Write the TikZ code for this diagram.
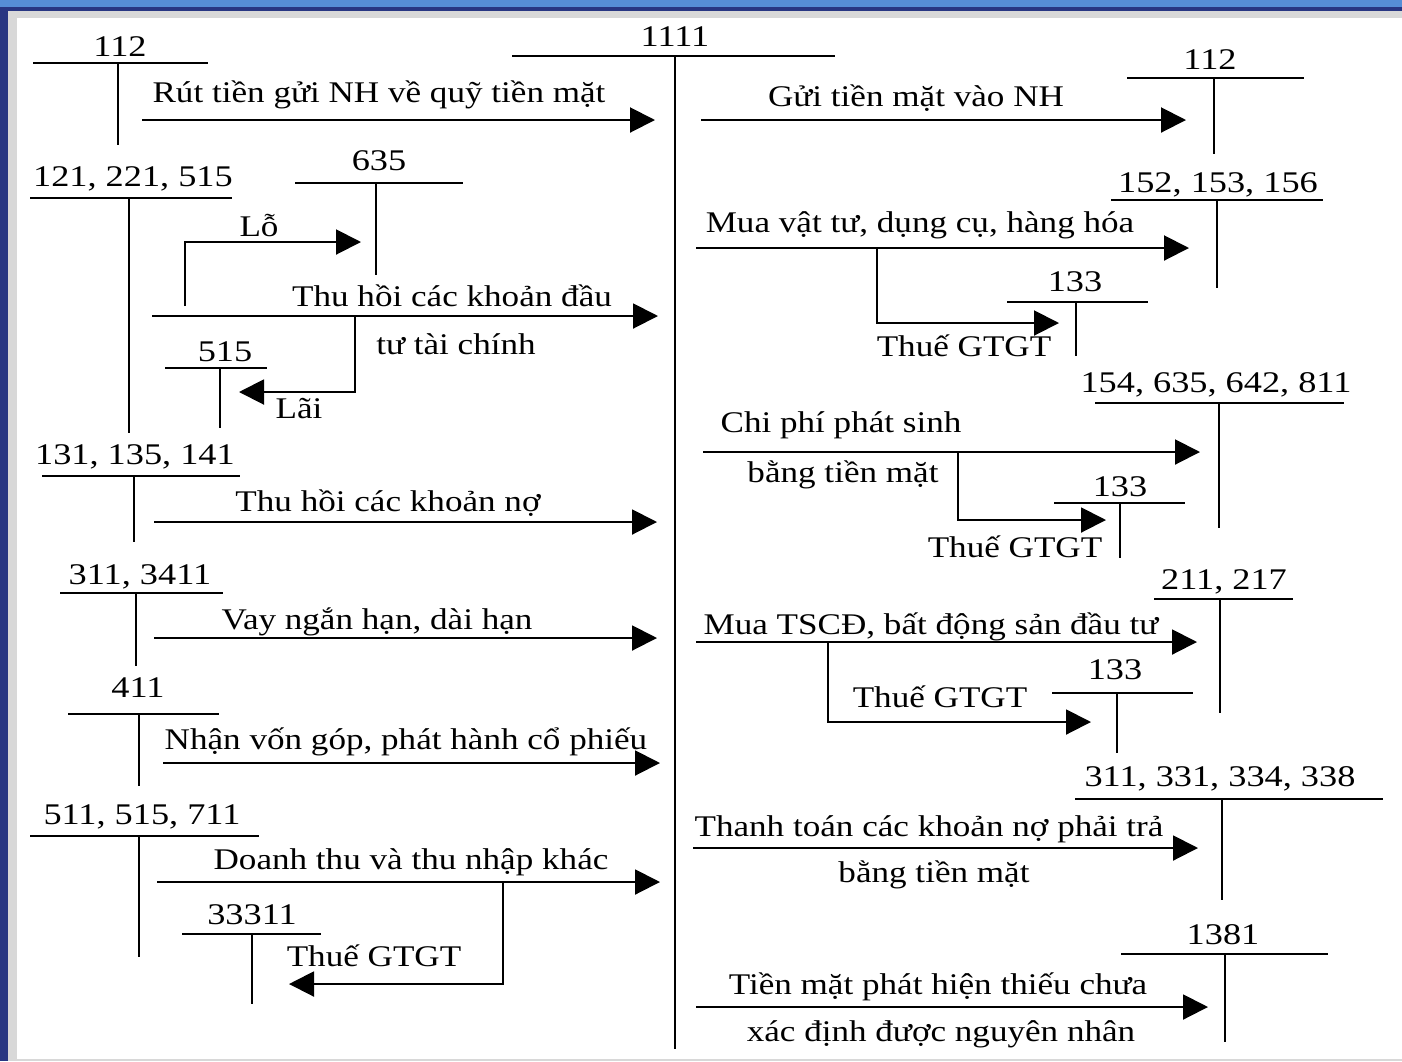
\documentclass[tikz,border=0pt]{standalone}
\usepackage{fontspec}
\setmainfont{Liberation Serif}[FakeStretch=1.17]
\newfontfamily\numfont{Liberation Serif}[FakeStretch=1.21]
\usetikzlibrary{arrows.meta}
\definecolor{topblue}{RGB}{86,142,214}
\definecolor{navy}{RGB}{40,54,130}
\definecolor{framegray}{RGB}{216,216,216}
\tikzset{
  lbl/.style={inner sep=0pt, anchor=base, font=\fontsize{15}{18}\selectfont},
  num/.style={lbl, font=\fontsize{15}{18}\numfont},
  acc/.style={line width=1pt},
  flow/.style={line width=1pt, -{Triangle[length=12.5pt,width=12.5pt]}},
  branch/.style={line width=1pt, line join=miter, -{Triangle[length=12.5pt,width=12.5pt]}},
}
\begin{document}
\begin{tikzpicture}[x=0.5pt,y=-0.5pt]
\useasboundingbox (0,0) rectangle (1402,1061);
% frame
\fill[white] (0,0) rectangle (1402,1061);
\fill[framegray] (0,0) rectangle (1402,18);
\fill[framegray] (0,0) rectangle (17,1061);
\fill[framegray] (0,1059) rectangle (1402,1061);
\fill[navy] (0,0) rectangle (8,1061);
\fill[topblue] (0,0) rectangle (1402,6.5);
\fill[navy] (0,6.5) rectangle (1402,10.5);

% central account 1111
\coordinate (c-l) at (512,56);
\coordinate (c-r) at (835,56);
\coordinate (c-t) at (675,56);
\coordinate (c-b) at (675,1049);
\draw[acc] (c-l) -- (c-r);
\draw[line width=1.2pt] (c-t) -- (c-b);
\node[num] (c-name) at (675,46) {1111};

% ---------- left accounts ----------
\draw[acc] (33,63) coordinate (a112-l) -- (208,63) coordinate (a112-r);
\draw[acc] (118,63) coordinate (a112-t) -- (118,145) coordinate (a112-b);
\node[num] (a112-name) at (120,56) {112};

\draw[acc] (30,198) coordinate (a121-l) -- (232,198) coordinate (a121-r);
\draw[acc] (129,198) coordinate (a121-t) -- (129,433) coordinate (a121-b);
\node[num] (a121-name) at (133,186) {121, 221, 515};

\draw[acc] (295,183) coordinate (a635-l) -- (463,183) coordinate (a635-r);
\draw[acc] (376,183) coordinate (a635-t) -- (376,275) coordinate (a635-b);
\node[num] (a635-name) at (379,170) {635};

\draw[acc] (165,368) coordinate (a515-l) -- (267,368) coordinate (a515-r);
\draw[acc] (220,368) coordinate (a515-t) -- (220,428) coordinate (a515-b);
\node[num] (a515-name) at (225,361) {515};

\draw[acc] (42,476) coordinate (a131-l) -- (240,476) coordinate (a131-r);
\draw[acc] (134,476) coordinate (a131-t) -- (134,542) coordinate (a131-b);
\node[num] (a131-name) at (135,464) {131, 135, 141};

\draw[acc] (60,593) coordinate (a311-l) -- (223,593) coordinate (a311-r);
\draw[acc] (136,593) coordinate (a311-t) -- (136,666) coordinate (a311-b);
\node[num] (a311-name) at (140,584) {311, 3411};

\draw[acc] (68,714) coordinate (a411-l) -- (219,714) coordinate (a411-r);
\draw[acc] (139,714) coordinate (a411-t) -- (139,786) coordinate (a411-b);
\node[num] (a411-name) at (138,697) {411};

\draw[acc] (30,836) coordinate (a511-l) -- (259,836) coordinate (a511-r);
\draw[acc] (139,836) coordinate (a511-t) -- (139,957) coordinate (a511-b);
\node[num] (a511-name) at (142,824) {511, 515, 711};

\draw[acc] (182,934) coordinate (a333-l) -- (321,934) coordinate (a333-r);
\draw[acc] (252,934) coordinate (a333-t) -- (252,1004) coordinate (a333-b);
\node[num] (a333-name) at (252,924) {33311};

% ---------- right accounts ----------
\draw[acc] (1127,78) coordinate (b112-l) -- (1304,78) coordinate (b112-r);
\draw[acc] (1214,78) coordinate (b112-t) -- (1214,154) coordinate (b112-b);
\node[num] (b112-name) at (1210,69) {112};

\draw[acc] (1111,200) coordinate (b152-l) -- (1323,200) coordinate (b152-r);
\draw[acc] (1217,200) coordinate (b152-t) -- (1217,288) coordinate (b152-b);
\node[num] (b152-name) at (1218,192) {152, 153, 156};

\draw[acc] (1007,302) coordinate (b133a-l) -- (1148,302) coordinate (b133a-r);
\draw[acc] (1076,302) coordinate (b133a-t) -- (1076,356) coordinate (b133a-b);
\node[num] (b133a-name) at (1075,291) {133};

\draw[acc] (1095,403) coordinate (b154-l) -- (1344,403) coordinate (b154-r);
\draw[acc] (1219,403) coordinate (b154-t) -- (1219,528) coordinate (b154-b);
\node[num] (b154-name) at (1216,392) {154, 635, 642, 811};

\draw[acc] (1054,503) coordinate (b133b-l) -- (1185,503) coordinate (b133b-r);
\draw[acc] (1120,503) coordinate (b133b-t) -- (1120,558) coordinate (b133b-b);
\node[num] (b133b-name) at (1120,496) {133};

\draw[acc] (1154,599) coordinate (b211-l) -- (1293,599) coordinate (b211-r);
\draw[acc] (1220,599) coordinate (b211-t) -- (1220,713) coordinate (b211-b);
\node[num] (b211-name) at (1224,589) {211, 217};

\draw[acc] (1052,693) coordinate (b133c-l) -- (1193,693) coordinate (b133c-r);
\draw[acc] (1117,693) coordinate (b133c-t) -- (1117,753) coordinate (b133c-b);
\node[num] (b133c-name) at (1115,679) {133};

\draw[acc] (1075,799) coordinate (b311-l) -- (1383,799) coordinate (b311-r);
\draw[acc] (1222,799) coordinate (b311-t) -- (1222,900) coordinate (b311-b);
\node[num] (b311-name) at (1220,786) {311, 331, 334, 338};

\draw[acc] (1121,954) coordinate (b1381-l) -- (1328,954) coordinate (b1381-r);
\draw[acc] (1225,954) coordinate (b1381-t) -- (1225,1042) coordinate (b1381-b);
\node[num] (b1381-name) at (1223,944) {1381};

% ---------- left flows ----------
\coordinate (f1s) at (142,120); \coordinate (f1e) at (655,120);
\draw[flow] (f1s) -- (f1e);
\node[lbl] (f1t) at (379,102) {Rút tiền gửi NH về quỹ tiền mặt};

\coordinate (f2s) at (152,316); \coordinate (f2e) at (658,316);
\draw[flow] (f2s) -- (f2e);
\node[lbl] (f2t) at (452,306) {Thu hồi các khoản đầu};
\node[lbl] (f2u) at (456,354) {tư tài chính};

\coordinate (lo-s) at (185,306); \coordinate (lo-e) at (361,242);
\draw[branch] (lo-s) |- (lo-e);
\node[lbl] (lo-t) at (259,236) {Lỗ};

\coordinate (lai-s) at (355,316); \coordinate (lai-e) at (239,392);
\draw[branch] (lai-s) |- (lai-e);
\node[lbl] (lai-t) at (299,418) {Lãi};

\coordinate (f3s) at (154,522); \coordinate (f3e) at (657,522);
\draw[flow] (f3s) -- (f3e);
\node[lbl] (f3t) at (388,511) {Thu hồi các khoản nợ};

\coordinate (f4s) at (154,638); \coordinate (f4e) at (657,638);
\draw[flow] (f4s) -- (f4e);
\node[lbl] (f4t) at (377,629) {Vay ngắn hạn, dài hạn};

\coordinate (f5s) at (163,763); \coordinate (f5e) at (660,763);
\draw[flow] (f5s) -- (f5e);
\node[lbl] (f5t) at (406,749) {Nhận vốn góp, phát hành cổ phiếu};

\coordinate (f6s) at (157,882); \coordinate (f6e) at (660,882);
\draw[flow] (f6s) -- (f6e);
\node[lbl] (f6t) at (411,869) {Doanh thu và thu nhập khác};

\coordinate (g6s) at (503,882); \coordinate (g6e) at (289,984);
\draw[branch] (g6s) |- (g6e);
\node[lbl] (g6t) at (374,966) {Thuế GTGT};

% ---------- right flows ----------
\coordinate (r1s) at (701,120); \coordinate (r1e) at (1186,120);
\draw[flow] (r1s) -- (r1e);
\node[lbl] (r1t) at (916,106) {Gửi tiền mặt vào NH};

\coordinate (r2s) at (696,248); \coordinate (r2e) at (1189,248);
\draw[flow] (r2s) -- (r2e);
\node[lbl] (r2t) at (920,232) {Mua vật tư, dụng cụ, hàng hóa};
\coordinate (g2s) at (877,248); \coordinate (g2e) at (1059,323);
\draw[branch] (g2s) |- (g2e);
\node[lbl] (g2t) at (964,356) {Thuế GTGT};

\coordinate (r3s) at (703,452); \coordinate (r3e) at (1200,452);
\draw[flow] (r3s) -- (r3e);
\node[lbl] (r3t) at (841,432) {Chi phí phát sinh};
\node[lbl] (r3u) at (843,482) {bằng tiền mặt};
\coordinate (g3s) at (958,452); \coordinate (g3e) at (1106,520);
\draw[branch] (g3s) |- (g3e);
\node[lbl] (g3t) at (1015,557) {Thuế GTGT};

\coordinate (r4s) at (696,642); \coordinate (r4e) at (1197,642);
\draw[flow] (r4s) -- (r4e);
\node[lbl] (r4t) at (931,634) {Mua TSCĐ, bất động sản đầu tư};
\coordinate (g4s) at (828,642); \coordinate (g4e) at (1091,722);
\draw[branch] (g4s) |- (g4e);
\node[lbl] (g4t) at (940,707) {Thuế GTGT};

\coordinate (r5s) at (693,848); \coordinate (r5e) at (1198,848);
\draw[flow] (r5s) -- (r5e);
\node[lbl] (r5t) at (929,836) {Thanh toán các khoản nợ phải trả};
\node[lbl] (r5u) at (934,882) {bằng tiền mặt};

\coordinate (r6s) at (696,1007); \coordinate (r6e) at (1208,1007);
\draw[flow] (r6s) -- (r6e);
\node[lbl] (r6t) at (938,994) {Tiền mặt phát hiện thiếu chưa};
\node[lbl] (r6u) at (941,1041) {xác định được nguyên nhân};
\end{tikzpicture}
\end{document}
